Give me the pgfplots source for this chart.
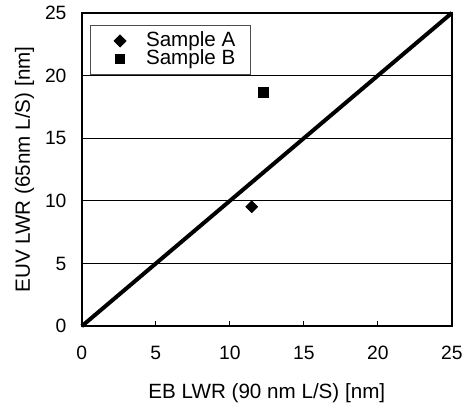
\documentclass[border=0pt]{standalone}
\usepackage{fontspec}
\setmainfont{Liberation Sans}
\usepackage{pgfplots}
\pgfplotsset{compat=1.18}

\begin{document}
\begin{tikzpicture}
\begin{axis}[
    name=ax,
    scale only axis,
    width=278.25pt, height=235.5pt,
    xmin=0, xmax=25, ymin=0, ymax=25,
    xtick={0,5,...,25}, ytick={0,5,...,25},
    ymajorgrids,
    grid style={black, line width=0.6pt},
    axis line style={black, line width=1.1pt},
    tick align=inside,
    xtick pos=bottom,
    x tick style={black, line width=0.6pt},
    major tick length=4pt,
    ytick style={draw=none},
    tick label style={font=\fontsize{14.5}{16}\selectfont},
    /pgf/number format/assume math mode=true,
    xticklabel style={anchor=north, yshift=-11.5pt},
    yticklabel shift=8pt,
    label style={font=\fontsize{15.5}{17}\selectfont},
    xlabel={EB LWR (90 nm L/S) [nm]},
    ylabel={EUV LWR (65nm L/S) [nm]},
    xlabel style={at={(axis description cs:0.5,0)}, anchor=base, yshift=-54.75pt},
    ylabel style={at={(axis description cs:0,0.5)}, anchor=base, yshift=39pt},
    legend image code/.code={%
        \path[draw=none,fill=none] (0pt,-4pt) rectangle (31pt,4pt);
        \draw[#1] plot coordinates {(13.5pt,0pt)};},
    legend style={
        at={(0,1)}, anchor=north west, xshift=6pt, yshift=-9pt,
        draw=black!70, line width=0.6pt,
        font=\fontsize{15.5}{17}\selectfont,
        inner xsep=9pt, inner ysep=5pt,
        row sep=0pt,
        nodes={text height=10.5pt, text depth=2.5pt, inner ysep=0.25pt},
        cells={anchor=west},
    },
    legend cell align=left,
    clip=false,
]
\addplot[only marks, mark=square*, mark size=3.2pt, black, mark options={fill=black, rotate=45}]
    coordinates {(11.48,9.53)};
\addlegendentry{Sample A}
\addplot[only marks, mark=square*, mark size=3.6pt, black, mark options={fill=black}]
    coordinates {(12.26,18.69)};
\addlegendentry{Sample B}
\addplot[black, line width=3pt, forget plot] coordinates {(0,0) (25,25)};
\end{axis}
\path (ax.south west) ++(-61.5pt,-58.5pt) (ax.north east) ++(10.5pt,9.75pt);
\end{tikzpicture}
\end{document}
